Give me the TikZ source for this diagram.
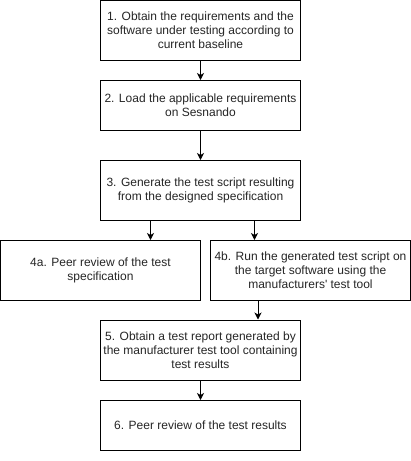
\documentclass[tikz,border=0pt]{standalone}
\usepackage{fontspec}
\setmainfont{Liberation Sans}
\usetikzlibrary{arrows.meta,calc}
\tikzset{
  box/.style={draw=black, line width=1pt, fill=white, minimum width=200pt, align=center, inner sep=0pt,
    font=\fontsize{12}{14}\selectfont, text=black!85},
  arr/.style={draw=black, line width=1pt, -{Stealth[length=7pt,width=7pt,inset=2pt]}}
}
\begin{document}
\begin{tikzpicture}[x=1pt,y=1pt]
\useasboundingbox (0,0) rectangle (411,-461);
\node[box, minimum height=60pt] (n1) at (200.5,-30.5) {1. Obtain the requirements and the\\software under testing according to\\current baseline};
\node[box, minimum height=50pt] (n2) at (200.5,-105.5) {2. Load the applicable requirements\\on Sesnando};
\node[box, minimum height=60pt] (n3) at (200.5,-190.5) {3. Generate the test script resulting\\from the designed specification};
\node[box, minimum height=60pt] (n4a) at (100.5,-270.5) {4a. Peer review of the test\\specification};
\node[box, minimum height=60pt] (n4b) at (310.5,-270.5) {4b. Run the generated test script on\\the target software using the\\manufacturers\textquotesingle{} test tool};
\node[box, minimum height=60pt] (n5) at (200.5,-350) {5. Obtain a test report generated by\\the manufacturer test tool containing\\test results};
\node[box, minimum height=50pt] (n6) at (200.5,-425.5) {6. Peer review of the test results};
\draw[arr] (n1.south) -- (n2.north);
\draw[arr] (n2.south) -- (n3.north);
\draw[arr] (n3.south -| 150.5,0) -- (n4a.north -| 150.5,0);
\draw[arr] (n3.south -| 254.5,0) -- (n4b.north -| 254.5,0);
\draw[arr] (n4b.south -| 258,0) -- (n5.north -| 258,0);
\draw[arr] (n5.south) -- (n6.north);
\end{tikzpicture}
\end{document}
